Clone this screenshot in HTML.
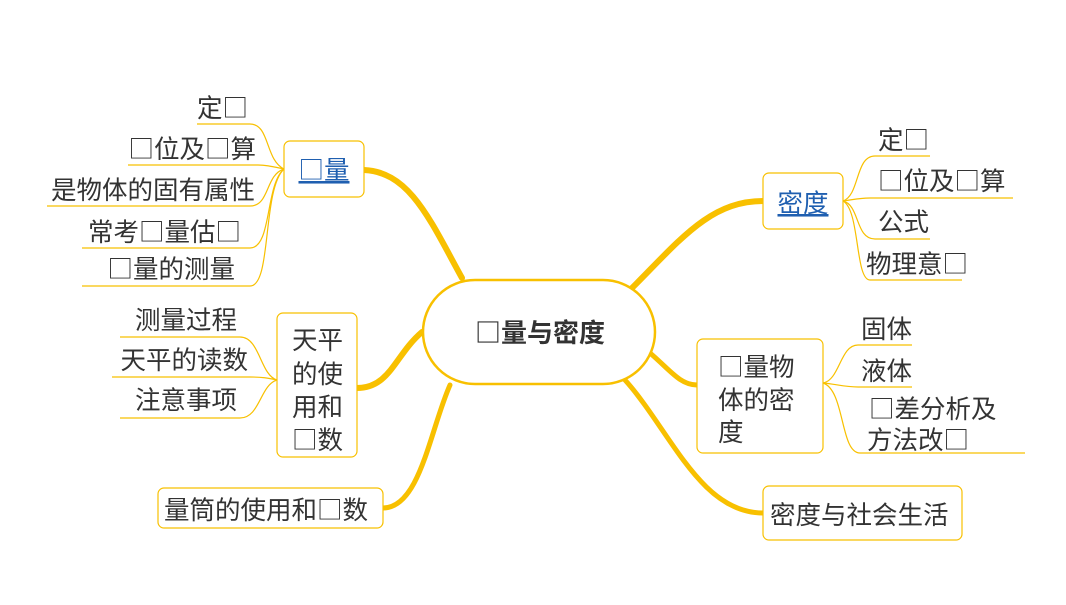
<!DOCTYPE html>
<html><head><meta charset="utf-8"><style>
body{margin:0;background:#fff;}
svg text{font-family:"Noto Sans CJK SC","Liberation Sans",sans-serif;fill:#333;font-size:25.5px;}
</style></head><body>
<svg width="1066" height="600" xmlns="http://www.w3.org/2000/svg">
<g fill="none" stroke="#F8C000" stroke-linecap="round">
<path d="M462,278 C430,220 410,172 364,170" stroke-width="6"/>
<path d="M422,332 C395,355 390,388 357,388" stroke-width="6"/>
<path d="M450,385 C430,430 420,508 383,508" stroke-width="5"/>
<path d="M632,288 C680,240 710,201 763,201" stroke-width="6"/>
<path d="M650,353 C670,370 680,385 697,385" stroke-width="5"/>
<path d="M625,380 C670,430 700,513 763,513" stroke-width="5"/>
</g>
<g fill="none" stroke="#F8C000" stroke-width="1.2">
<path d="M284,169 C265,160 270,124 250,124 L197,124"/>
<path d="M284,169 C270,166 265,165 258,165 L128,165"/>
<path d="M284,169 C265,175 270,206 250,206 L47,206"/>
<path d="M284,169 C265,185 272,248 250,248 L82,248"/>
<path d="M284,169 C262,190 272,286 250,286 L82,286"/>
<path d="M277,380 C260,375 260,337 240,337 L120,337"/>
<path d="M277,380 C268,378 262,377 250,377 L112,377"/>
<path d="M277,380 C260,385 260,418 240,418 L120,418"/>
<path d="M843,201 C860,195 855,156 875,156 L930,156"/>
<path d="M843,201 C852,200 858,198 870,198 L1013,198"/>
<path d="M843,201 C860,205 855,239 875,239 L930,239"/>
<path d="M843,201 C860,210 855,280 870,280 L962,280"/>
<path d="M823,383 C840,380 840,345 858,345 L912,345"/>
<path d="M823,383 C835,384 845,387 858,387 L912,387"/>
<path d="M823,383 C845,390 840,453 860,453 L1025,453"/>
</g>
<g fill="#fff" stroke="#F8C000">
<rect x="423" y="280" width="232" height="104" rx="52" stroke-width="2.5"/>
<rect x="284" y="141" width="80" height="56" rx="6" stroke-width="1.2"/>
<rect x="277" y="313" width="80" height="144" rx="6" stroke-width="1.2"/>
<rect x="158" y="488" width="225" height="40" rx="6" stroke-width="1.2"/>
<rect x="763" y="173" width="80" height="56" rx="6" stroke-width="1.2"/>
<rect x="697" y="339" width="126" height="114" rx="6" stroke-width="1.2"/>
<rect x="763" y="486" width="199" height="54" rx="6" stroke-width="1.2"/>
</g>
<text x="540" y="342" text-anchor="middle" font-weight="bold" style="font-size:26px">□量与密度</text>
<text x="324" y="179" text-anchor="middle" style="fill:#1f5fb0;text-decoration:underline">□量</text>
<text x="803" y="212" text-anchor="middle" style="fill:#1f5fb0;text-decoration:underline">密度</text>
<g text-anchor="end">
<text x="248" y="117">定□</text>
<text x="256" y="158">□位及□算</text>
<text x="255" y="199">是物体的固有属性</text>
<text x="241" y="241">常考□量估□</text>
<text x="235" y="278">□量的测量</text>
<text x="237" y="329">测量过程</text>
<text x="248" y="369">天平的读数</text>
<text x="237" y="409">注意事项</text>
</g>
<text x="292" y="349">天平</text>
<text x="292" y="383">的使</text>
<text x="292" y="416">用和</text>
<text x="292" y="449">□数</text>
<text x="164" y="519">量筒的使用和□数</text>
<text x="878" y="149">定□</text>
<text x="878" y="190">□位及□算</text>
<text x="878" y="231">公式</text>
<text x="866" y="273">物理意□</text>
<text x="718" y="376">□量物</text>
<text x="718" y="409">体的密</text>
<text x="718" y="441">度</text>
<text x="861" y="338">固体</text>
<text x="861" y="380">液体</text>
<text x="869" y="418">□差分析及</text>
<text x="867" y="449">方法改□</text>
<text x="770" y="524">密度与社会生活</text>
</svg>
</body></html>
